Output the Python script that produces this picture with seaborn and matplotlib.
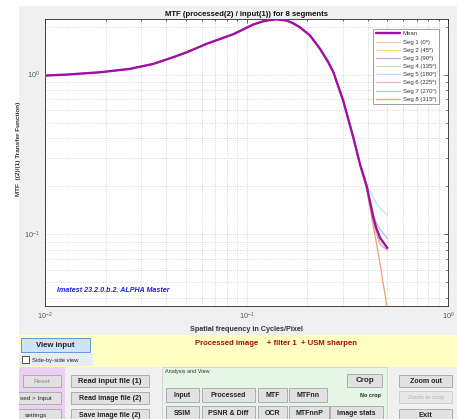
import numpy as np
import pandas as pd
import matplotlib
matplotlib.use("Agg")
import matplotlib.pyplot as plt
from matplotlib.patches import Rectangle
from matplotlib.ticker import LogLocator, NullFormatter
import seaborn as sns

# ---------------- data ----------------
freq_head = [0.01, 0.0128, 0.01875, 0.0264, 0.0345, 0.0433, 0.0505, 0.0635, 0.086,
             0.108, 0.12, 0.126, 0.141, 0.158, 0.17, 0.184, 0.2065, 0.2317, 0.2547,
             0.27, 0.302, 0.339]
mtf_common = [0.986, 1.0, 1.034, 1.086, 1.167, 1.285, 1.38, 1.56, 1.79,
              2.06, 2.15, 2.18, 2.22, 2.18, 2.10, 1.98, 1.76, 1.45, 1.195,
              1.034, 0.686, 0.403]
freq_tail = [0.366, 0.395, 0.426, 0.44, 0.46, 0.50]
mean_tail = [0.274, 0.200, 0.127, 0.110, 0.095, 0.082]
seg_tails = {
    "Seg 1 (0ᵒ)":   [0.272, 0.198, 0.122, 0.103, 0.087, 0.079],
    "Seg 2 (45ᵒ)":  [0.272, 0.198, 0.122, 0.103, 0.087, 0.079],
    "Seg 3 (90ᵒ)":  [0.272, 0.198, 0.122, 0.103, 0.087, 0.079],
    "Seg 4 (135ᵒ)": [0.272, 0.198, 0.122, 0.103, 0.087, 0.079],
    "Seg 5 (180ᵒ)": [0.276, 0.205, 0.170, 0.157, 0.145, 0.133],
    "Seg 6 (225ᵒ)": [0.272, 0.198, 0.122, 0.103, 0.087, 0.079],
    "Seg 7 (270ᵒ)": [0.274, 0.200, 0.135, 0.118, 0.107, 0.094],
    "Seg 8 (315ᵒ)": [0.272, 0.190, 0.112, 0.090, 0.065, 0.034],
}
seg_colors = ["#f6c4b0", "#fcd88a", "#c9a2dc", "#c2e0a8", "#b4e4f6",
              "#e8b4c8", "#9cc8ec", "#f0a070"]
mean_color = "#a010a6"

title = "MTF (processed(2) / input(1)) for 8 segments"
xlabel = "Spatial frequency in Cycles/Pixel"
ylabel = "MTF  ((2)/(1) Transfer Function)"
watermark = "Imatest 23.2.0.b.2. ALPHA Master"

freq = freq_head + freq_tail
rows = []
for f, v in zip(freq, mtf_common + mean_tail):
    rows.append(("Mean", f, v))
for name, tail in seg_tails.items():
    for f, v in zip(freq, mtf_common + tail):
        rows.append((name, f, v))
df = pd.DataFrame(rows, columns=["series", "freq", "mtf"])

# ---------------- figure ----------------
sns.set_theme(style="white")
plt.rcParams["font.family"] = ["Liberation Sans", "DejaVu Sans"]
W, H = 457, 419
fig = plt.figure(figsize=(W / 100, H / 100), dpi=100)
fig.patch.set_facecolor("white")

bg = fig.add_axes([0, 0, 1, 1], zorder=0)
bg.set_xlim(0, W)
bg.set_ylim(H, 0)
bg.axis("off")

def rect(x, y, w, h, fc, ec="none", lw=0.8, z=1):
    bg.add_patch(Rectangle((x, y), w, h, facecolor=fc, edgecolor=ec, lw=lw, zorder=z))

def button(x, y, w, h, text, fs=5.2, color="#222222", bold=True, fc="#e1e1e1", ec="#adadad"):
    rect(x, y, w, h, fc, ec, lw=0.7, z=3)
    bg.text(x + w / 2, y + h / 2, text, ha="center", va="center", fontsize=fs,
            color=color, fontweight="bold" if bold else "normal", zorder=4)

rect(19, 6, W - 19, H - 6, "#f0f0f0")
rect(19, 335, W - 19, 32, "#ffffc4", z=2)
button(21, 338, 69, 14, "View input", fs=5.6, fc="#cce4f7", ec="#5a9bd5")
rect(19, 354, 74, 12, "#e6ecf8", z=2)
rect(22, 356, 7, 7, "white", "#333333", lw=0.6, z=3)
bg.text(32, 360, "Side-by-side view", fontsize=4.2, va="center", color="#222222", zorder=4)
bg.text(276, 343, "Processed image    + filter 1  + USM sharpen", fontsize=5.6,
        ha="center", va="center", color="#a01010", fontweight="bold", zorder=4)
rect(19, 367, 46, 52, "#ecd0f4", z=2)
button(23, 375, 38, 12, "Reset", fs=4.6, color="#888888", bold=False)
button(10, 392, 51, 12, "sed > Input", fs=4.6, bold=False)
button(10, 409, 51, 12, "settings", fs=4.6, bold=False)
rect(0, 367, 19, 52, "white", z=5)
button(71, 375, 78, 12, "Read input file (1)", fs=5.4)
button(71, 392, 78, 12, "Read image file (2)", fs=5.0)
button(71, 409, 78, 12, "Save image file (2)", fs=5.0)
rect(162, 367, 225, 52, "#e6f6e6", ec="#d0d0d0", lw=0.6, z=2)
bg.text(165, 371, "Analysis and View", fontsize=4.0, va="center", color="#333333", zorder=4)
button(347, 374, 35, 13, "Crop", fs=5.8)
bg.text(370, 395, "No crop", fontsize=4.0, ha="center", va="center",
        color="#222222", fontweight="bold", zorder=4)
button(166, 388, 33, 14, "Input", fs=5.0)
button(202, 388, 53, 14, "Processed", fs=5.0)
button(258, 388, 29, 14, "MTF", fs=5.0)
button(289, 388, 38, 14, "MTFnn", fs=5.0)
button(166, 406, 33, 14, "SSIM", fs=5.0)
button(202, 406, 53, 14, "PSNR & Diff", fs=5.0)
button(258, 406, 29, 14, "OCR", fs=5.0)
button(289, 406, 40, 14, "MTFnnP", fs=5.0)
button(330, 406, 53, 14, "Image stats", fs=5.0)
button(399, 375, 53, 12, "Zoom out", fs=5.0)
button(399, 391, 53, 12, "Zoom to crop", fs=4.4, color="#b0b0b0", bold=False, fc="#e8e8e8", ec="#d0d0d0")
button(399, 409, 53, 12, "Exit", fs=5.4)

# ---------------- main plot ----------------
ax = fig.add_axes([45 / W, 1 - 306 / H, 403 / W, 287 / H], zorder=2)
ax.set_facecolor("white")
sns.lineplot(data=df[df.series == "Mean"], x="freq", y="mtf", color=mean_color,
             lw=1.7, ax=ax, label="Mean", estimator=None, sort=False, zorder=5)
for name, col in zip(seg_tails.keys(), seg_colors):
    sns.lineplot(data=df[df.series == name], x="freq", y="mtf", color=col,
                 lw=0.9, ax=ax, label=name, estimator=None, sort=False, zorder=3)

ax.set_xscale("log")
ax.set_yscale("log")
ax.set_xlim(0.01, 1.0)
ax.set_ylim(0.0355, 2.23)
ax.xaxis.set_major_locator(LogLocator(base=10, numticks=10))
ax.xaxis.set_minor_locator(LogLocator(base=10, subs=np.arange(2, 10), numticks=20))
ax.yaxis.set_major_locator(LogLocator(base=10, numticks=10))
ax.yaxis.set_minor_locator(LogLocator(base=10, subs=np.arange(2, 10), numticks=20))
ax.xaxis.set_minor_formatter(NullFormatter())
ax.yaxis.set_minor_formatter(NullFormatter())
ax.grid(True, which="both", color="#c8c8c8", ls=":", lw=0.6)
ax.tick_params(which="both", direction="in", top=True, right=True,
               colors="#262626", labelcolor="#555555", labelsize=5.2, width=0.5)
ax.tick_params(which="major", length=3)
ax.tick_params(which="minor", length=1.6)
ax.tick_params(axis="x", pad=3.5)
for s in ax.spines.values():
    s.set_color("#262626")
    s.set_linewidth(0.6)

ax.set_title(title, fontsize=5.6, fontweight="bold", pad=2.5, color="#111111")
ax.set_xlabel(xlabel, fontsize=5.2, fontweight="bold", color="#333333", labelpad=3)
ax.set_ylabel(ylabel, fontsize=4.6, fontweight="bold", color="#333333")
ax.yaxis.set_label_coords(-0.06, 0.547)
ax.text(0.03, 0.05, watermark, transform=ax.transAxes, fontsize=5.1,
        color="#2020dd", fontstyle="italic", fontweight="bold")

leg = ax.legend(loc="upper right", bbox_to_anchor=(0.985, 0.977), fontsize=4.3,
                frameon=True, fancybox=False, edgecolor="#777777", framealpha=1,
                handlelength=4.0, labelspacing=0.5, borderpad=0.45, handletextpad=0.5)
leg.get_frame().set_linewidth(0.5)
for t in leg.get_texts():
    t.set_color("#333333")

fig.savefig("out.png", dpi=100)
